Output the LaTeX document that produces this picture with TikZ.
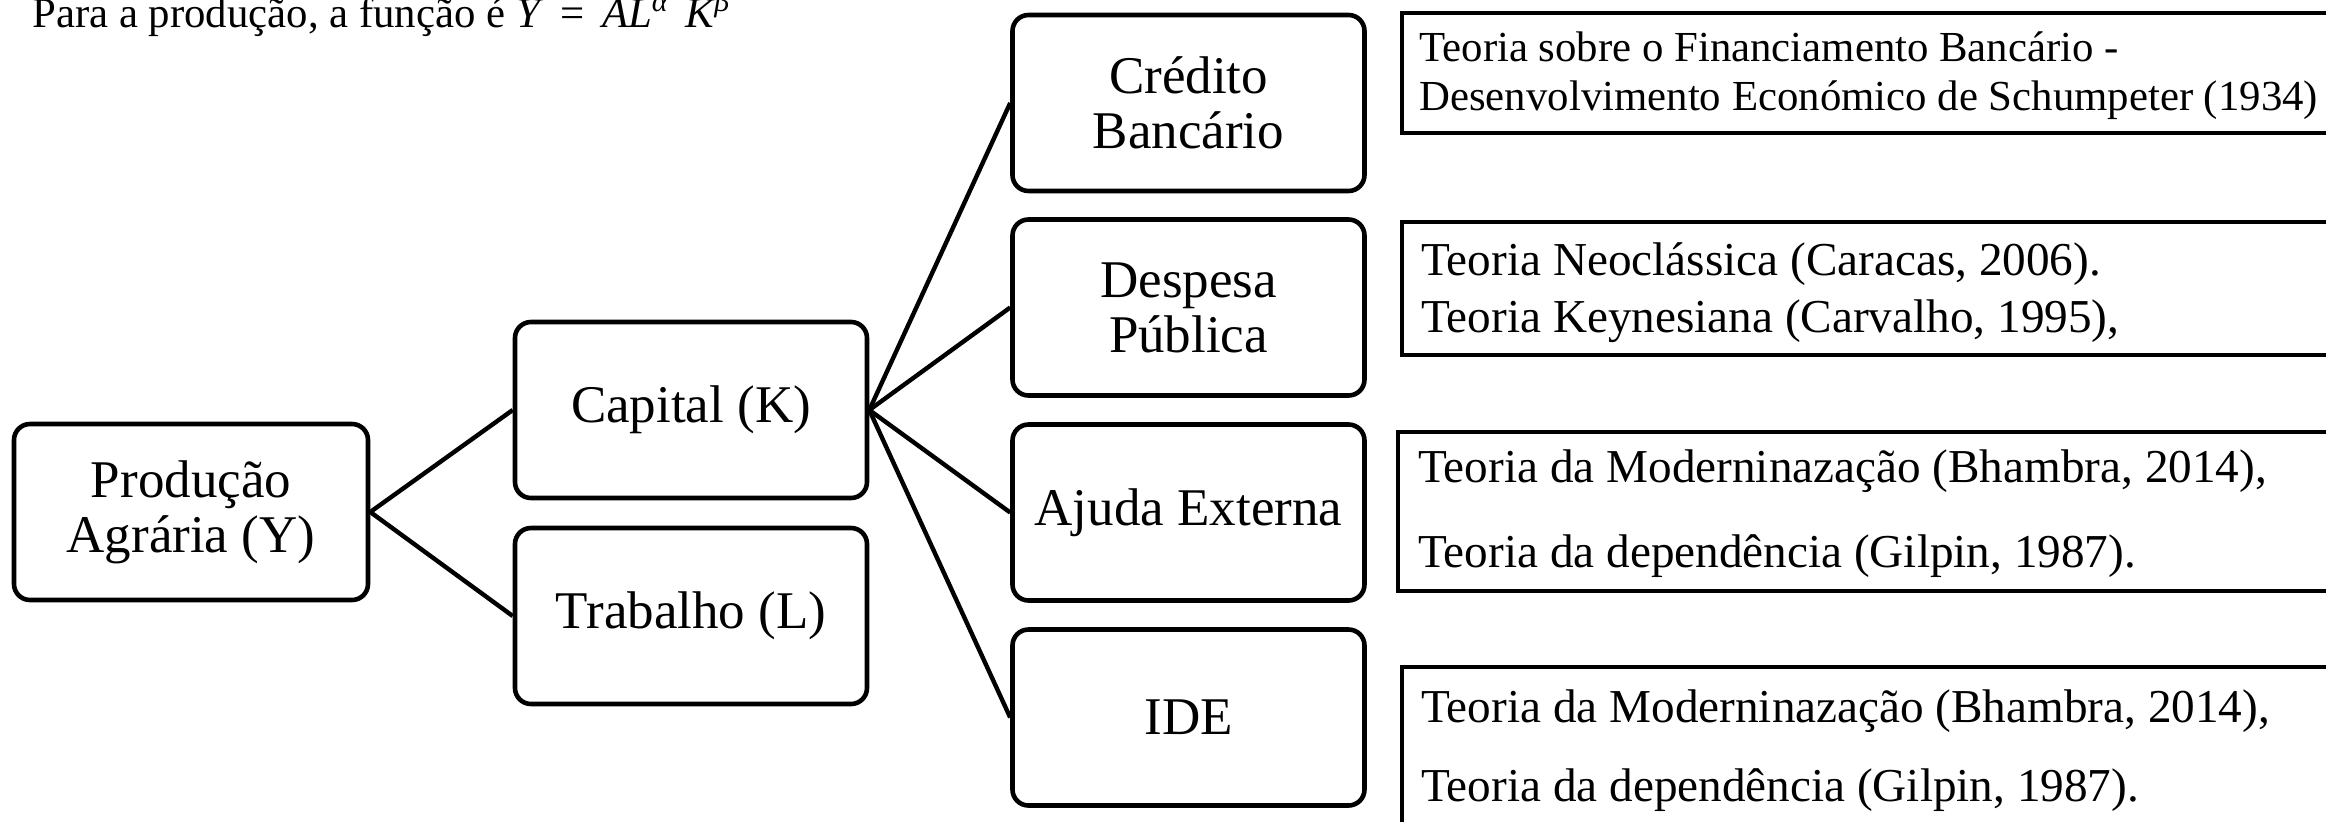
\documentclass[tikz,border=0pt]{standalone}
\usepackage{fontspec}
\setmainfont{Liberation Serif}
\begin{document}
\begin{tikzpicture}[x=0.5pt,y=-0.5pt,
  rbox/.style={draw, line width=2.3pt, rounded corners=8pt, minimum width=176pt, minimum height=88pt, align=center, inner sep=0pt, font=\fontsize{26.5}{27.5}\selectfont},
  tbox/.style={draw, line width=2.2pt, anchor=north west, inner sep=0pt, minimum width=520pt},
  conn/.style={line width=2.2pt},
  tline/.style={anchor=base west, inner sep=0pt},
  tsmall/.style={tline, font=\fontsize{21.4}{24}\selectfont},
  tbig/.style={tline, font=\fontsize{23.6}{28}\selectfont}
]
\useasboundingbox (0,0) rectangle (2326,821);

% title
\node[anchor=base west, inner sep=0pt, font=\fontsize{21.4}{26}\selectfont] (title) at (32,27)
  {Para a produção, a função é \textit{Y}\hspace{0.4em}=\hspace{0.4em}\textit{AL\textsuperscript{α}\hspace{0.4em}K\textsuperscript{β}}};

% rounded boxes
\node[rbox, minimum width=177pt] (prod) at (191,512) {Produção\\Agrária (Y)};
\node[rbox] (cap) at (691,410) {Capital (K)};
\node[rbox] (trab) at (691,616) {Trabalho (L)};
\node[rbox] (cred) at (1188.5,103) {Crédito\\Bancário};
\node[rbox] (desp) at (1188.5,307.5) {Despesa\\Pública};
\node[rbox] (ajuda) at (1188.5,512.5) {Ajuda Externa};
\node[rbox] (ide) at (1188.5,717.5) {IDE};

% connectors
\draw[conn] (prod.east) -- (cap.west);
\draw[conn] (prod.east) -- (trab.west);
\draw[conn] (cap.east) -- (cred.west);
\draw[conn] (cap.east) -- (desp.west);
\draw[conn] (cap.east) -- (ajuda.west);
\draw[conn] (cap.east) -- (ide.west);

% theory boxes
\node[tbox, minimum height=60pt] (t1) at (1400,11) {};
\node[tbox, minimum height=66.5pt] (t2) at (1400,220) {};
\node[tbox, minimum height=79.5pt] (t3) at (1396,430) {};
\node[tbox, minimum height=120pt] (t4) at (1400,665) {};

% theory texts
\node[tsmall] (t1a) at (1419,61) {Teoria sobre o Financiamento Bancário -};
\node[tsmall] (t1b) at (1419,110) {Desenvolvimento Económico de Schumpeter (1934)};
\node[tbig] (t2a) at (1421,275) {Teoria Neoclássica (Caracas, 2006).};
\node[tbig] (t2b) at (1421,332) {Teoria Keynesiana (Carvalho, 1995),};
\node[tbig] (t3a) at (1418,482) {Teoria da Moderninazação (Bhambra, 2014),};
\node[tbig] (t3b) at (1418,567) {Teoria da dependência (Gilpin, 1987).};
\node[tbig] (t4a) at (1421,722) {Teoria da Moderninazação (Bhambra, 2014),};
\node[tbig] (t4b) at (1421,801) {Teoria da dependência (Gilpin, 1987).};
\end{tikzpicture}
\end{document}
